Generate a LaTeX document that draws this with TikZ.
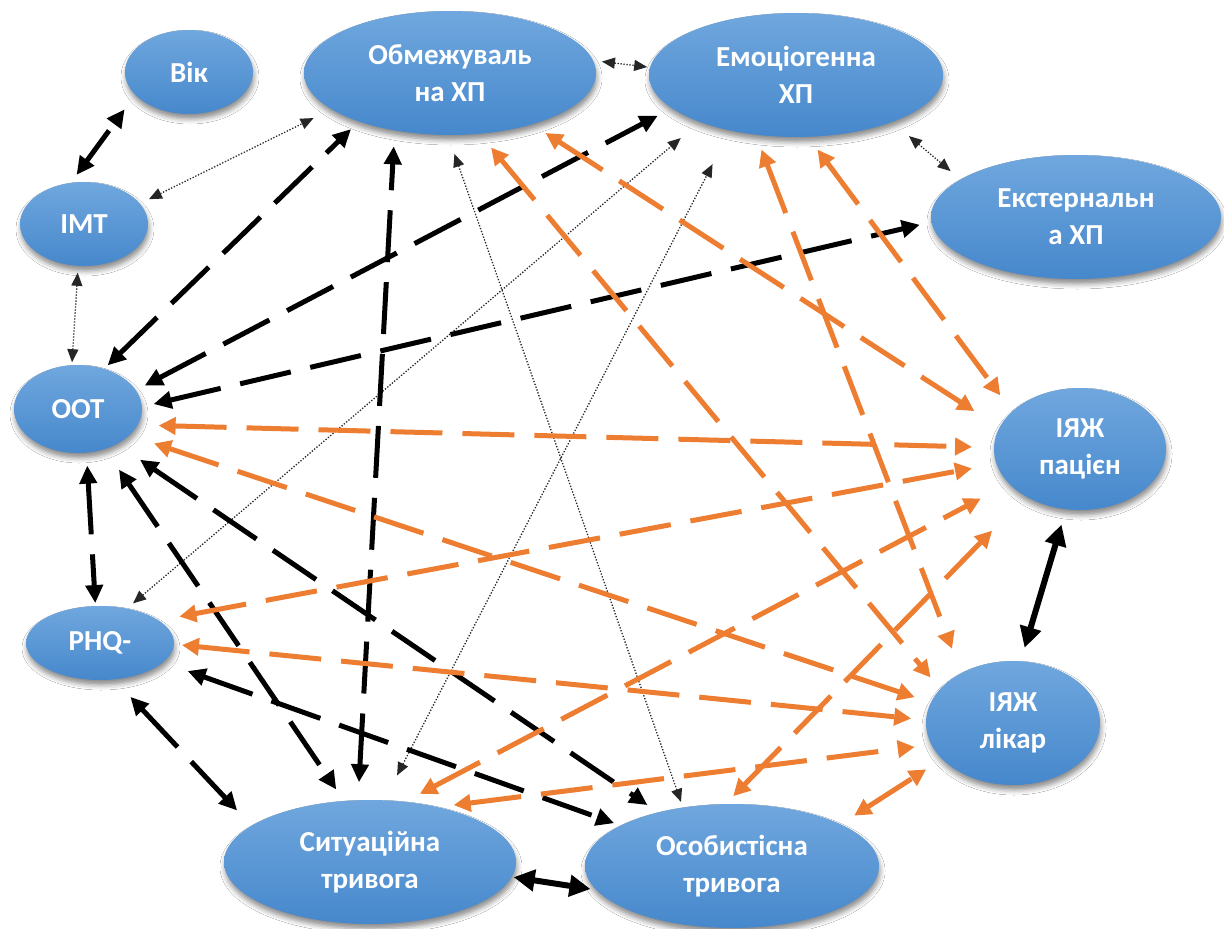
\documentclass[tikz,border=0pt]{standalone}
\usepackage{fontspec}
\setmainfont{Carlito}
\usetikzlibrary{shapes.geometric,arrows.meta,shadows.blur}
\definecolor{orng}{RGB}{237,125,49}
\definecolor{btop}{RGB}{112,167,222}
\definecolor{bbot}{RGB}{70,136,204}
\newcommand\lnk[5]{\draw[#1,shorten <=#3pt,shorten >=#5pt] (#2) -- (#4);}
\begin{document}
\begin{tikzpicture}[x=1pt,y=-1pt,
  ell/.style={ellipse,inner sep=0pt,outer sep=0pt,align=center,text=white,
    font=\fontsize{29}{37}\selectfont\bfseries,top color=btop,bottom color=bbot,
    blur shadow={shadow xshift=1pt,shadow yshift=-5pt,shadow blur radius=5pt,shadow opacity=45}},
  blk/.style={draw=black,line width=5pt,dash pattern=on 52pt off 20pt,<->,>={Triangle[length=18pt,width=17pt]}},
  org/.style={draw=orng,line width=5pt,dash pattern=on 52pt off 20pt,<->,>={Triangle[length=17pt,width=17pt]}},
  dot/.style={draw=black!85,line width=1.3pt,dash pattern=on 1.3pt off 1.7pt,<->,>={Triangle[length=13pt,width=11pt]}},
  thk/.style={draw=black,line width=6pt,<->,>={Triangle[length=21pt,width=21pt]}}
]
\fill[white] (0,0) rectangle (1224,929);
\useasboundingbox (0,0) rectangle (1224,929);

\node[ell,minimum width=128pt,minimum height=84pt] (vik) at (189,72) {Вік};
\node[ell,minimum width=292pt,minimum height=124pt] (obm) at (450,73) {Обмежуваль\\на ХП};
\node[ell,minimum width=294pt,minimum height=124pt] (emo) at (796,75) {Емоціогенна\\ХП};
\node[ell,minimum width=290pt,minimum height=124pt] (ext) at (1076,217) {Екстернальн\\а ХП};
\node[ell,minimum width=128pt,minimum height=84pt] (imt) at (84,224) {ІМТ};
\node[ell,minimum width=128pt,minimum height=88pt] (oot) at (78,409) {ООТ};
\node[ell,minimum width=148pt,minimum height=74pt] (phq) at (100,643) {PHQ-};
\node[ell,minimum width=172pt,minimum height=122pt] (pac) at (1080,449) {ІЯЖ\\пацієн};
\node[ell,minimum width=174pt,minimum height=124pt] (lik) at (1013,723) {ІЯЖ\\лікар};
\node[ell,minimum width=292pt,minimum height=124pt] (sit) at (370,862) {Ситуаційна\\тривога};
\node[ell,minimum width=294pt,minimum height=124pt] (oso) at (732,866) {Особистісна\\тривога};

% dotted
\lnk{dot}{imt.262}{7}{oot.98}{3}
\lnk{dot}{imt.20}{10}{obm.197}{20}
\lnk{dot}{obm.5}{9}{emo.177}{3}
\lnk{dot}{emo.-26}{22}{ext.162}{13}
\lnk{dot}{phq.52}{8}{emo.206}{25}
\lnk{dot}{sit.77}{28}{emo.220}{38}
\lnk{dot}{oso.130}{6}{obm.268}{20}

% black dashed
\lnk{blk,dash pattern=on 38pt off 20pt}{imt.108}{10}{vik.203}{18}
\lnk{blk}{oot.-79}{13}{phq.97}{3}
\lnk{blk}{phq.-69}{24}{sit.163}{21}
\lnk{blk}{oot.57}{5}{obm.208}{11}
\lnk{blk}{oot.18}{10}{emo.195}{16}
\lnk{blk}{oot.2}{12}{ext.182}{12}
\lnk{blk}{sit.101}{18}{obm.226}{16}
\lnk{blk}{oot.-56}{25}{sit.113}{14}
\lnk{blk}{oot.-42}{28}{oso.144}{13}
\lnk{blk}{phq.-17}{26}{oso.160}{7}

% thick solid
\lnk{thk}{sit.-6}{2}{oso.190}{6}
\lnk{thk}{pac.257}{16}{lik.83}{14}

% orange dashed
\lnk{org}{oot.-15}{21}{pac.179}{22}
\lnk{org}{phq.21}{21}{pac.190}{25}
\lnk{org}{oot.-27}{26}{lik.166}{17}
\lnk{org}{phq.-1}{8}{lik.178}{15}
\lnk{org}{sit.39}{16}{lik.195}{17}
\lnk{org}{oso.21}{16}{lik.207}{19}
\lnk{org}{sit.60}{17}{pac.206}{32}
\lnk{org}{oso.96}{11}{pac.221}{48}
\lnk{org}{obm.-32}{16}{pac.165}{30}
\lnk{org}{obm.-64}{18}{lik.155}{15}
\lnk{org}{emo.236}{16}{lik.136}{26}
\lnk{org}{emo.-79}{16}{pac.151}{20}
\end{tikzpicture}
\end{document}
